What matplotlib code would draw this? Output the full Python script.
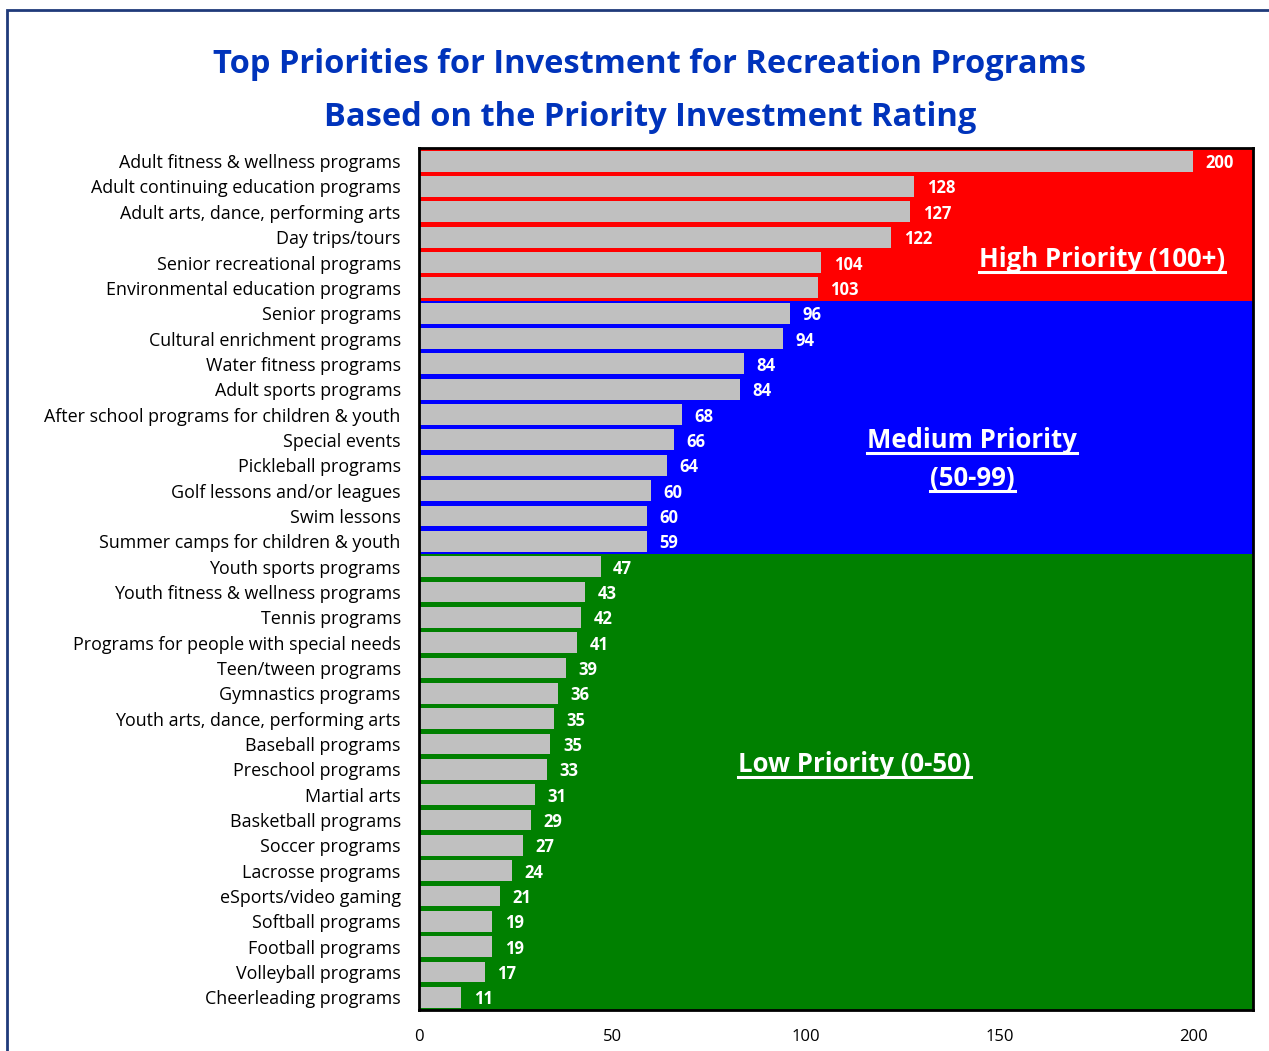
import matplotlib.pyplot as plt
from matplotlib.patches import Rectangle
from matplotlib.lines import Line2D

programs = [
    "Adult fitness & wellness programs",
    "Adult continuing education programs",
    "Adult arts, dance, performing arts",
    "Day trips/tours",
    "Senior recreational programs",
    "Environmental education programs",
    "Senior programs",
    "Cultural enrichment programs",
    "Water fitness programs",
    "Adult sports programs",
    "After school programs for children & youth",
    "Special events",
    "Pickleball programs",
    "Golf lessons and/or leagues",
    "Swim lessons",
    "Summer camps for children & youth",
    "Youth sports programs",
    "Youth fitness & wellness programs",
    "Tennis programs",
    "Programs for people with special needs",
    "Teen/tween programs",
    "Gymnastics programs",
    "Youth arts, dance, performing arts",
    "Baseball programs",
    "Preschool programs",
    "Martial arts",
    "Basketball programs",
    "Soccer programs",
    "Lacrosse programs",
    "eSports/video gaming",
    "Softball programs",
    "Football programs",
    "Volleyball programs",
    "Cheerleading programs",
]
pir = [200, 128, 127, 122, 104, 103, 96, 94, 84, 84, 68, 66, 64, 60, 60, 59,
       47, 43, 42, 41, 39, 36, 35, 35, 33, 31, 29, 27, 24, 21, 19, 19, 17, 11]
# bar lengths as drawn in the source (a few differ slightly from the label)
bar_len = [200, 128, 127, 122, 104, 103, 96, 94, 84, 83, 68, 66, 64, 60, 59, 59,
           47, 43, 42, 41, 38, 36, 35, 34, 33, 30, 29, 27, 24, 21, 19, 19, 17, 11]

# priority zones: (first index, last index, colour)
zones = [(0, 5, "#ff0000"), (6, 15, "#0000ff"), (16, 33, "#008000")]
# zone captions: (text, x, y) in data units
zone_labels = [
    ("High Priority (100+)", 176.5, 3.87),
    ("Medium Priority", 143.0, 11.02),
    ("(50-99)", 143.0, 12.52),
    ("Low Priority (0-50)", 112.5, 23.82),
]

plt.rcParams["font.family"] = ["Open Sans", "DejaVu Sans"]

fig = plt.figure(figsize=(12.69, 10.51), dpi=100)
ax = fig.add_axes([0.330, 0.039, 0.6574, 0.8202])

for lo, hi, col in zones:
    ax.axhspan(lo - 0.5, hi + 0.5, color=col, zorder=0, lw=0)

captions = []
for lab, tx, ty in zone_labels:
    captions.append(ax.text(tx, ty, lab, color="white", fontsize=18.5, fontweight="bold",
                            ha="center", va="center"))

ypos = list(range(len(programs)))
ax.barh(ypos, bar_len, height=0.82, color="#c0c0c0", zorder=2)
for y, v, lbl in zip(ypos, bar_len, pir):
    ax.annotate(str(lbl), (v, y), xytext=(9, 0), textcoords="offset points",
                color="white", fontsize=12, fontweight="bold",
                va="center_baseline", ha="left")

ax.set_xlim(0, 215.5)
ax.set_ylim(33.5, -0.52)
ax.set_yticks(ypos)
ax.set_yticklabels(programs, fontsize=12.85)
ax.set_xticks([0, 50, 100, 150, 200])
ax.tick_params(axis="x", length=0, pad=14, labelsize=12)
ax.tick_params(axis="y", length=0, pad=13)
for s in ax.spines.values():
    s.set_color("black")
    s.set_linewidth(2)

fig.text(0.512, 0.939, "Top Priorities for Investment for Recreation Programs",
         ha="center", va="center", fontsize=23.5, fontweight="bold", color="#0033bb")
fig.text(0.512, 0.888, "Based on the Priority Investment Rating",
         ha="center", va="center", fontsize=23.5, fontweight="bold", color="#0033bb")

# underline the zone captions
fig.canvas.draw()
renderer = fig.canvas.get_renderer()
inv = fig.transFigure.inverted()
for t in captions:
    bb = t.get_window_extent(renderer)
    (x0, y0), (x1, _) = inv.transform([(bb.x0, bb.y0 + 1), (bb.x1, bb.y0)])
    fig.lines.append(Line2D([x0, x1], [y0, y0], transform=fig.transFigure,
                            color="white", lw=2.2))

# page frame (top and left edges visible)
fig.patches.append(Rectangle((0.0055, -0.05), 1.2, 1.0405, transform=fig.transFigure,
                             fill=False, edgecolor="#1f3a7a", lw=2))

fig.savefig("out.png", dpi=100)
